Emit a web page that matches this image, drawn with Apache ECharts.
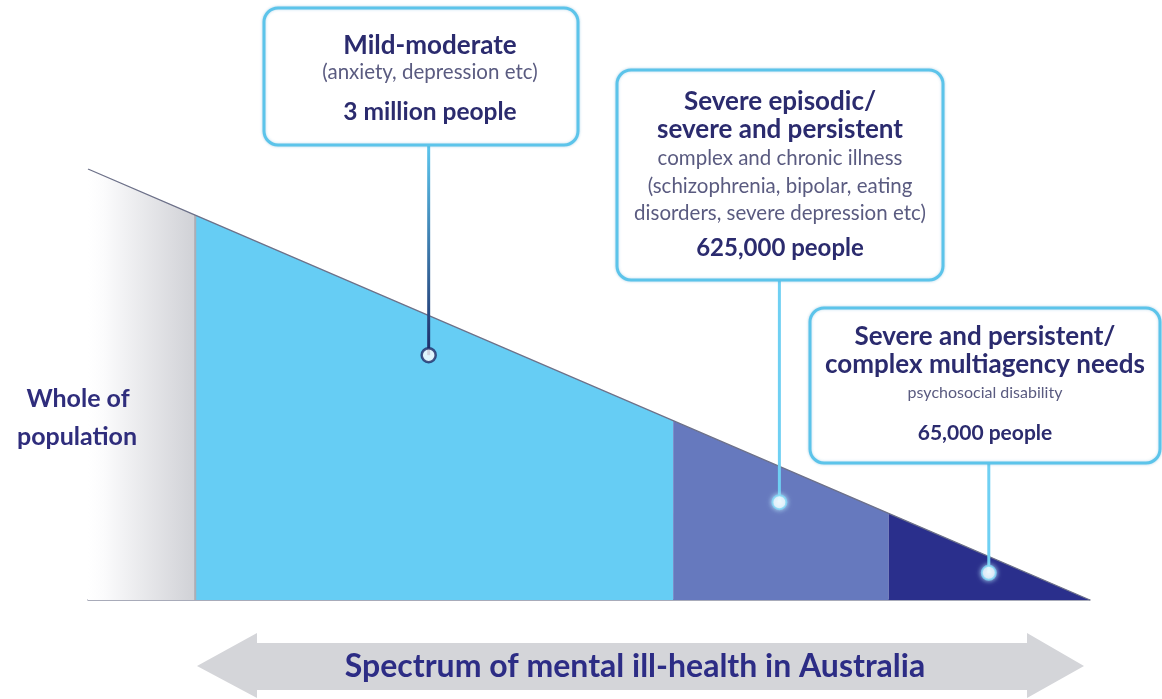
<!DOCTYPE html>
<html><head><meta charset="utf-8">
<script src="https://cdn.jsdelivr.net/npm/echarts@6/dist/echarts.min.js"></script>
<style>html,body{margin:0;padding:0;background:#fff}#c{width:1162px;height:699px}</style>
</head><body><div id="c"></div>
<script>
// ---------------- data ----------------
const segmentNames = ['Whole of population', 'Mild-moderate', 'Severe episodic / severe and persistent', 'Severe and persistent / complex multiagency needs'];
const segmentBounds = [0, 10.7, 58.4, 79.9, 100];     // position along the spectrum (%)
const segmentHeights = [100, 89.3, 41.6, 20.1, 0];    // relative height of the population wedge at each bound
const markerX = [34.0, 69.0, 89.9];
const markerY = [56.8, 22.7, 6.3];
const boxTitles = [['Mild-moderate'], ['Severe episodic/', 'severe and persistent'], ['Severe and persistent/', 'complex multiagency needs']];
const boxDetails = [['(anxiety, depression etc)'], ['complex and chronic illness', '(schizophrenia, bipolar, eating', 'disorders, severe depression etc)'], ['psychosocial disability']];
const boxCounts = ['3 million people', '625,000 people', '65,000 people'];
const leftLabel = ['Whole of', 'population'];
const axisTitle = 'Spectrum of mental ill-health in Australia';

// ---------------- styles / layout ----------------
const FONT = 'Lato, "Open Sans", sans-serif';
const NAVY = '#2b2b6e';
const SUB = '#5a5b80';
const BOX_STROKE = '#5cc4ea';
const segColors = [
  new echarts.graphic.LinearGradient(0, 0, 1, 0, [
    {offset: 0, color: '#ffffff'}, {offset: 0.15, color: '#fbfbfc'}, {offset: 1, color: '#d0d1d6'}]),
  '#66cdf4', '#6679be', '#2a2f8c'
];
const boxLayout = [
  {x: 264, y: 8, w: 314, h: 137, cx: 430, titleY: [46], detailY: [72], countY: 112, tS: 26, dS: 20.5, cS: 24.5},
  {x: 617, y: 70, w: 326, h: 210, cx: 780, titleY: [102, 130], detailY: [158, 186, 213], countY: 248, tS: 26, dS: 20.5, cS: 24},
  {x: 810, y: 308, w: 350, h: 155, cx: 985, titleY: [337, 365], detailY: [393], countY: 433, tS: 26, dS: 16, cS: 21}
];
const markerBorder = ['#1c2a66', '#7fd6f5', '#7fd6f5'];

const chart = echarts.init(document.getElementById('c'), null, {renderer: 'canvas'});

const series = [];
for (let i = 0; i < segmentNames.length; i++) {
  series.push({
    name: segmentNames[i], type: 'line', symbol: 'none', z: 2,
    data: [[segmentBounds[i], segmentHeights[i]], [segmentBounds[i + 1], segmentHeights[i + 1]]],
    lineStyle: {width: 0}, areaStyle: {color: segColors[i], opacity: 1}
  });
}
// edge of the whole-of-population band
series.push({
  type: 'line', symbol: 'none', z: 3,
  data: [[segmentBounds[1], 0], [segmentBounds[1], segmentHeights[1]]],
  lineStyle: {color: '#acadb5', width: 2}
});
// sloping top edge
series.push({
  type: 'line', symbol: 'none', z: 3,
  data: segmentBounds.map((b, i) => [b, segmentHeights[i]]),
  lineStyle: {color: '#6d7189', width: 1.3}
});
// markers
series.push({
  type: 'scatter', z: 6, symbolSize: 14,
  data: markerX.map((x, i) => ({
    value: [x, markerY[i]],
    itemStyle: {color: '#ffffff', borderColor: markerBorder[i], borderWidth: i === 0 ? 2.5 : 2,
      shadowBlur: i === 0 ? 0 : 5, shadowColor: '#bdeeff'}
  }))
});

chart.setOption({
  animation: false,
  backgroundColor: '#ffffff',
  grid: {left: 88, right: 72, top: 169, bottom: 99},
  xAxis: {type: 'value', min: 0, max: 100, axisLine: {show: true, lineStyle: {color: '#8c90a3', width: 1.5}},
    axisTick: {show: false}, axisLabel: {show: false}, splitLine: {show: false}},
  yAxis: {type: 'value', min: 0, max: 100, show: false, splitLine: {show: false}},
  series: series
});

// ---------------- annotations ----------------
const g = [];
function txt(t, x, y, size, weight, color) {
  g.push({type: 'text', z: 20, style: {text: t, x: x, y: y, align: 'center', verticalAlign: 'middle',
    fontSize: size, fontWeight: weight, fontFamily: FONT, fill: color}});
}
boxLayout.forEach((b, i) => {
  const p = chart.convertToPixel({gridIndex: 0}, [markerX[i], markerY[i]]);
  const by = b.y + b.h;
  const stroke = i === 0
    ? new echarts.graphic.LinearGradient(p[0], by, p[0], p[1], [{offset: 0, color: '#5cc6ee'}, {offset: 1, color: '#1c2a66'}], true)
    : '#6fd0f3';
  g.push({type: 'line', z: 4, shape: {x1: p[0], y1: by, x2: p[0], y2: p[1]}, style: {stroke: stroke, lineWidth: 3}});
  g.push({type: 'rect', z: 10, shape: {x: b.x, y: b.y, width: b.w, height: b.h, r: 14},
    style: {fill: '#ffffff', stroke: BOX_STROKE, lineWidth: 3, shadowBlur: 3, shadowColor: 'rgba(60,150,200,0.35)'}});
  boxTitles[i].forEach((t, k) => txt(t, b.cx, b.titleY[k], b.tS, 'bold', NAVY));
  boxDetails[i].forEach((t, k) => txt(t, b.cx, b.detailY[k], b.dS, 'normal', SUB));
  txt(boxCounts[i], b.cx, b.countY, b.cS, 'bold', NAVY);
});
txt(leftLabel[0], 78, 399, 25, 'bold', '#2f2d7c');
txt(leftLabel[1], 77, 437, 25, 'bold', '#2f2d7c');
// double arrow
g.push({type: 'polygon', z: 1, shape: {points: [
  [197, 666], [257, 633], [257, 643], [1027, 643], [1027, 633], [1084, 666],
  [1027, 698], [1027, 690], [257, 690], [257, 698]]}, style: {fill: '#d4d5d9'}});
txt(axisTitle, 635, 667, 32, 'bold', '#2c2c85');
chart.setOption({graphic: {elements: g}});
</script></body></html>
